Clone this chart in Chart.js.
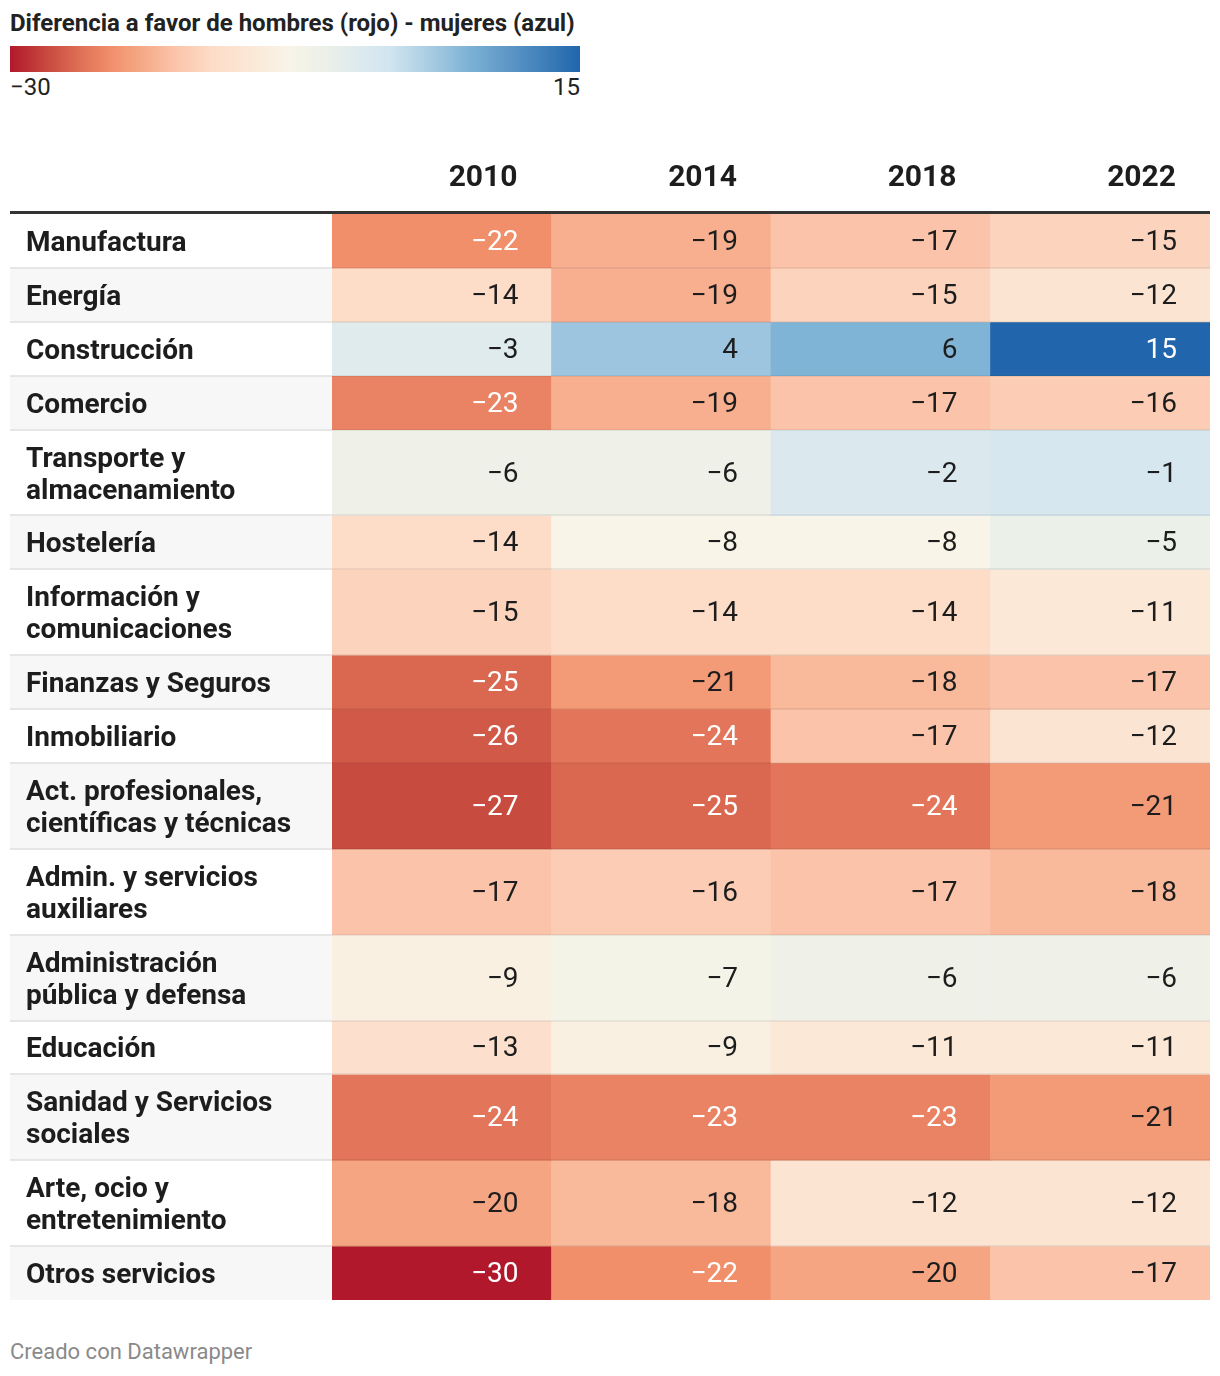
<!DOCTYPE html>
<html>
<head>
<meta charset="utf-8">
<script src="https://cdn.jsdelivr.net/npm/chart.js@4"></script>
<style>
  body { margin: 0; background: #fff; font-family: Roboto, sans-serif; color: #222; }
  #title { position: absolute; left: 10px; top: 9px; font-size: 24px; font-weight: 700; color: #222; }
  #bar { position: absolute; left: 10px; top: 46px; width: 570px; height: 26px; }
  #lmin { position: absolute; left: 10px; top: 73px; font-size: 24px; }
  #lmax { position: absolute; left: 480px; width: 100px; text-align: right; top: 73px; font-size: 24px; }
  #wrap { position: absolute; left: 10px; top: 130px; width: 1200px; height: 1170px; }
  #foot { position: absolute; left: 10px; top: 1339px; font-size: 22px; color: #8a8a8a; }
</style>
</head>
<body>
<div id="title">Diferencia a favor de hombres (rojo) - mujeres (azul)</div>
<div id="bar"></div>
<div id="lmin">−30</div>
<div id="lmax">15</div>
<div id="wrap"><canvas id="chart"></canvas></div>
<div id="foot">Creado con Datawrapper</div>
<script>
const years = ['2010', '2014', '2018', '2022'];
const sectors = [
  ['Manufactura'],
  ['Energía'],
  ['Construcción'],
  ['Comercio'],
  ['Transporte y', 'almacenamiento'],
  ['Hostelería'],
  ['Información y', 'comunicaciones'],
  ['Finanzas y Seguros'],
  ['Inmobiliario'],
  ['Act. profesionales,', 'científicas y técnicas'],
  ['Admin. y servicios', 'auxiliares'],
  ['Administración', 'pública y defensa'],
  ['Educación'],
  ['Sanidad y Servicios', 'sociales'],
  ['Arte, ocio y', 'entretenimiento'],
  ['Otros servicios']
];
const v2010 = [-22, -14, -3, -23, -6, -14, -15, -25, -26, -27, -17, -9, -13, -24, -20, -30];
const v2014 = [-19, -19, 4, -19, -6, -8, -14, -21, -24, -25, -16, -7, -9, -23, -18, -22];
const v2018 = [-17, -15, 6, -17, -2, -8, -14, -18, -17, -24, -17, -6, -11, -23, -12, -20];
const v2022 = [-15, -12, 15, -16, -1, -5, -11, -17, -12, -21, -18, -6, -11, -21, -12, -17];
const series = [v2010, v2014, v2018, v2022];
const legendMin = -30, legendMax = 15;

// colour scale (value -> colour)
const colorStops = [
  [-30, '#b2182b'], [-27, '#c84b3f'], [-24, '#e3765a'], [-22, '#f18f6b'],
  [-20, '#f5a581'], [-17, '#fbc4aa'], [-14, '#fddcc8'], [-11, '#fbe8d7'],
  [-8, '#f8f4e8'], [-5, '#ebf0e8'], [-2, '#dbe9ef'], [0, '#d1e5f0'],
  [4, '#9dc5df'], [6, '#80b4d6'], [15, '#2166ac']
];
function hex2rgb(h) {
  return [1, 3, 5].map(i => parseInt(h.substr(i, 2), 16));
}
function colorFor(v) {
  if (v <= colorStops[0][0]) return colorStops[0][1];
  for (let i = 1; i < colorStops.length; i++) {
    const [v1, c1] = colorStops[i];
    if (v <= v1) {
      const [v0, c0] = colorStops[i - 1];
      const t = (v - v0) / (v1 - v0);
      const a = hex2rgb(c0), b = hex2rgb(c1);
      return 'rgb(' + a.map((x, k) => Math.round(x + (b[k] - x) * t)).join(',') + ')';
    }
  }
  return colorStops[colorStops.length - 1][1];
}

document.getElementById('bar').style.background = 'linear-gradient(to right, ' +
  colorStops.map(([v, c]) => c + ' ' + ((v - legendMin) / (legendMax - legendMin) * 100).toFixed(2) + '%').join(', ') + ')';

// row spans: one or two text lines
const rowH = sectors.map(s => 22 + 32 * s.length);
const rowStart = [];
let acc = 0;
rowH.forEach(h => { rowStart.push(acc); acc += h; });
const total = acc;
const rowMid = rowStart.map((s, i) => s + rowH[i] / 2);

const fmt = v => v < 0 ? '−' + Math.abs(v) : String(v);

const tablePlugin = {
  id: 'table',
  beforeDraw(chart) {
    const {ctx, chartArea, scales: {y}} = chart;
    ctx.save();
    sectors.forEach((s, i) => {
      const top = y.getPixelForValue(rowStart[i]);
      const bot = y.getPixelForValue(rowStart[i] + rowH[i]);
      ctx.fillStyle = i % 2 ? '#f7f7f7' : '#ffffff';
      ctx.fillRect(0, top, chartArea.left, bot - top);
    });
    ctx.restore();
  },
  afterDatasetsDraw(chart) {
    const {ctx, chartArea, scales: {y}} = chart;
    ctx.save();
    // row separators
    for (let i = 1; i < sectors.length; i++) {
      const py = Math.round(y.getPixelForValue(rowStart[i]));
      ctx.fillStyle = '#e6e6e6';
      ctx.fillRect(0, py - 1, chartArea.left, 2);
      ctx.fillStyle = 'rgba(0,0,0,0.06)';
      ctx.fillRect(chartArea.left, py - 1, chartArea.right - chartArea.left, 2);
    }
    // header rule
    ctx.fillStyle = '#333333';
    ctx.fillRect(0, chartArea.top - 3, chartArea.right, 3);
    // cell values
    ctx.font = '28px Roboto';
    ctx.textAlign = 'right';
    ctx.textBaseline = 'middle';
    chart.data.datasets.forEach((ds, i) => {
      chart.getDatasetMeta(i).data.forEach((el, j) => {
        const v = series[j][i];
        ctx.fillStyle = (v <= -22 || v >= 10) ? '#ffffff' : '#1d1d1d';
        ctx.fillText(fmt(v), el.x + el.width / 2 - 33, (el.y + el.base) / 2 + 2);
      });
    });
    ctx.restore();
  }
};

const chart = new Chart(document.getElementById('chart'), {
  type: 'bar',
  data: {
    labels: years,
    datasets: sectors.map((s, i) => ({
      label: s.join(' '),
      data: years.map(() => [rowStart[i], rowStart[i] + rowH[i]]),
      backgroundColor: series.map(col => colorFor(col[i])),
      borderWidth: 0,
      borderSkipped: false,
      grouped: false,
      categoryPercentage: 1.0,
      barPercentage: 1.0
    }))
  },
  options: {
    responsive: true,
    maintainAspectRatio: false,
    animation: false,
    layout: { padding: { left: 16, top: 0, right: 0, bottom: 0 } },
    plugins: { legend: { display: false }, tooltip: { enabled: false } },
    scales: {
      x: {
        type: 'category',
        position: 'top',
        grid: { display: false, drawTicks: false },
        border: { display: false },
        afterFit: scale => { scale.height = 84; scale.paddingLeft = 0; scale.paddingRight = 0; },
        ticks: {
          align: 'end',
          labelOffset: 75.75,
          padding: 18,
          color: '#1d1d1d',
          font: { family: 'Roboto', size: 30, weight: 'bold' },
          maxRotation: 0
        }
      },
      y: {
        type: 'linear',
        reverse: true,
        min: 0,
        max: total,
        grid: { display: false, drawTicks: false },
        border: { display: false },
        afterFit: scale => { scale.width = 306; scale.paddingTop = 0; scale.paddingBottom = 0; },
        afterBuildTicks: scale => { scale.ticks = rowMid.map(v => ({ value: v })); },
        ticks: {
          autoSkip: false,
          crossAlign: 'far',
          padding: 0,
          labelOffset: 3,
          color: '#1d1d1d',
          font: { family: 'Roboto', size: 28, weight: 'bold', lineHeight: 1.143 },
          callback: (value, index) => sectors[index]
        }
      }
    }
  },
  plugins: [tablePlugin]
});
</script>
</body>
</html>
